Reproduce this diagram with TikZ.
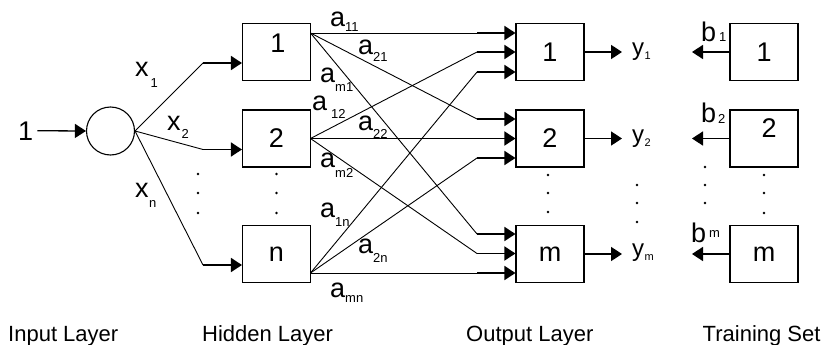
\documentclass[tikz,border=0pt]{standalone}
\usepackage{fontspec}
\setmainfont{Liberation Sans}
\usetikzlibrary{arrows.meta,calc}
\newcommand\mainsz{\fontsize{27}{27}\selectfont}
\newcommand\subsz{\fontsize{13}{13}\selectfont}
\newcommand\botsz{\fontsize{22}{22}\selectfont}
\newcommand\lbsub[4]{#1\kern#3pt\raisebox{#4pt}{\subsz #2}}
\newcommand\ylab[1]{{\fontsize{24}{24}\selectfont y}\kern0.5pt\raisebox{-4pt}{\fontsize{11}{11}\selectfont #1}}
\begin{document}
\begin{tikzpicture}[x=1pt,y=-1pt,
  box/.style={draw,line width=1.1pt,minimum width=68pt,minimum height=57pt,inner sep=0pt,font=\mainsz},
  boxtext/.style={inner sep=0pt,font=\mainsz},
  thinline/.style={line width=0.9pt},
  arr/.style={line width=1.7pt,-{Triangle[length=11pt,width=14pt]}},
  lab/.style={anchor=base west,inner sep=0pt,font=\mainsz},
  bot/.style={anchor=base west,inner sep=0pt,font=\botsz}
]
\useasboundingbox (0,0) rectangle (824,345);

% input
\node[circle,draw,line width=1.1pt,minimum size=48pt,inner sep=0pt] (c) at (110.5,131) {};
\node[lab] (one) at (18,140) {1};
\draw[arr,line width=1.3pt,shorten <=4pt] (one.east) -- (c.west);

% hidden boxes
\node[box] (h1) at (276.5,52) {};
\node[boxtext] (h1t) at ($(h1)+(1.5,-9)$) {1};
\node[box] (h2) at (276.5,138.5) {2};
\node[box] (hn) at (276.5,254) {n};

% output boxes
\node[box] (o1) at (550,52) {1};
\node[box] (o2) at (550,138.5) {2};
\node[box] (om) at (550,254) {m};

% training boxes
\node[box] (t1) at (764,52) {1};
\node[box] (t2) at (764,138.5) {};
\node[boxtext] (t2t) at ($(t2)+(5,-10.5)$) {2};
\node[box] (tm) at (764,254) {m};

% input to hidden
\coordinate (b1) at (203,63);
\coordinate (b2) at (203,149.5);
\coordinate (bn) at (203,265);
\foreach \b/\h in {b1/h1,b2/h2,bn/hn}{
  \draw[thinline] (c.east) -- (\b);
  \draw[arr] (\b) -- (\b -| \h.west);
}

% hidden to output
\coordinate (s1) at (310.5,33);
\coordinate (s2) at (310.5,138.5);
\coordinate (sn) at (310.5,273);
\coordinate (p11) at (477,33);
\coordinate (p12) at (477,52);
\coordinate (p1n) at (477,72);
\coordinate (p21) at (477,119);
\coordinate (p22) at (477,138.5);
\coordinate (p2n) at (477,158);
\coordinate (pm1) at (477,234);
\coordinate (pm2) at (477,253.5);
\coordinate (pmn) at (477,273);
\foreach \s/\p/\o in {s1/p11/o1,s1/p21/o2,s1/pm1/om,
                      s2/p12/o1,s2/p22/o2,s2/pm2/om,
                      sn/p1n/o1,sn/p2n/o2,sn/pmn/om}{
  \draw[thinline] (\s) -- (\p);
  \draw[arr] (\p) -- (\p -| \o.west);
}

% outputs
\coordinate (ye) at (622,0);
\foreach \o in {o1,o2,om}{
  \draw[arr] (\o.east) -- (\o.east -| ye);
}
% training arrows
\coordinate (be) at (692,0);
\foreach \t in {t1,t2,tm}{
  \draw[arr] (\t.west) -- (\t.west -| be);
}

% x labels
\node[lab] (x1) at (135,76) {\lbsub{x}{1}{2}{-11}};
\node[lab] (x2) at (167,130) {\lbsub{x}{2}{1}{-8}};
\node[lab] (xn) at (135,197) {\lbsub{x}{n}{0.5}{-10}};

% a labels
\node[lab] (a11) at (330,27) {\lbsub{a}{11}{0}{-5}};
\node[lab] (a21) at (358,55) {\lbsub{a}{21}{0}{-7}};
\node[lab] (am1) at (320,82) {\lbsub{a}{m1}{0}{-9}};
\node[lab] (a12) at (312,110) {\lbsub{a}{12}{4}{-8}};
\node[lab] (a22) at (358,130) {\lbsub{a}{22}{0}{-8}};
\node[lab] (am2) at (320,167) {\lbsub{a}{m2}{0}{-10}};
\node[lab] (a1n) at (320,217) {\lbsub{a}{1n}{0}{-9}};
\node[lab] (a2n) at (358,253) {\lbsub{a}{2n}{0}{-9}};
\node[lab] (amn) at (330,297) {\lbsub{a}{mn}{0}{-5}};

% y labels
\node[lab] (y1) at (632,56) {\ylab{1}};
\node[lab] (y2) at (632,142) {\ylab{2}};
\node[lab] (ym) at (632,256) {\ylab{m}};

% b labels
\node[lab] (bl1) at (701,42) {\lbsub{b}{1}{3}{0}};
\node[lab] (bl2) at (701,122) {\lbsub{b}{2}{2}{-1}};
\node[lab] (blm) at (691,242) {\lbsub{b}{m}{3}{5}};

% dots
\foreach \x/\y in {198/174,198/193,198/213,
                   276.5/174,276.5/193,276.5/213,
                   548/175,548/193,548/212,
                   637/185,637/203,637/222,
                   705/167,705/185,705/203,
                   764/175,764/193,764/213}{
  \fill (\x,\y) circle (1.3pt);
}

% bottom labels
\node[bot] (li) at (8,341) {Input Layer};
\node[bot] (lh) at (202,341) {Hidden Layer};
\node[bot] (lo) at (466,341) {Output Layer};
\node[bot] (lt) at (702.5,341) {Training Set};
\end{tikzpicture}
\end{document}
